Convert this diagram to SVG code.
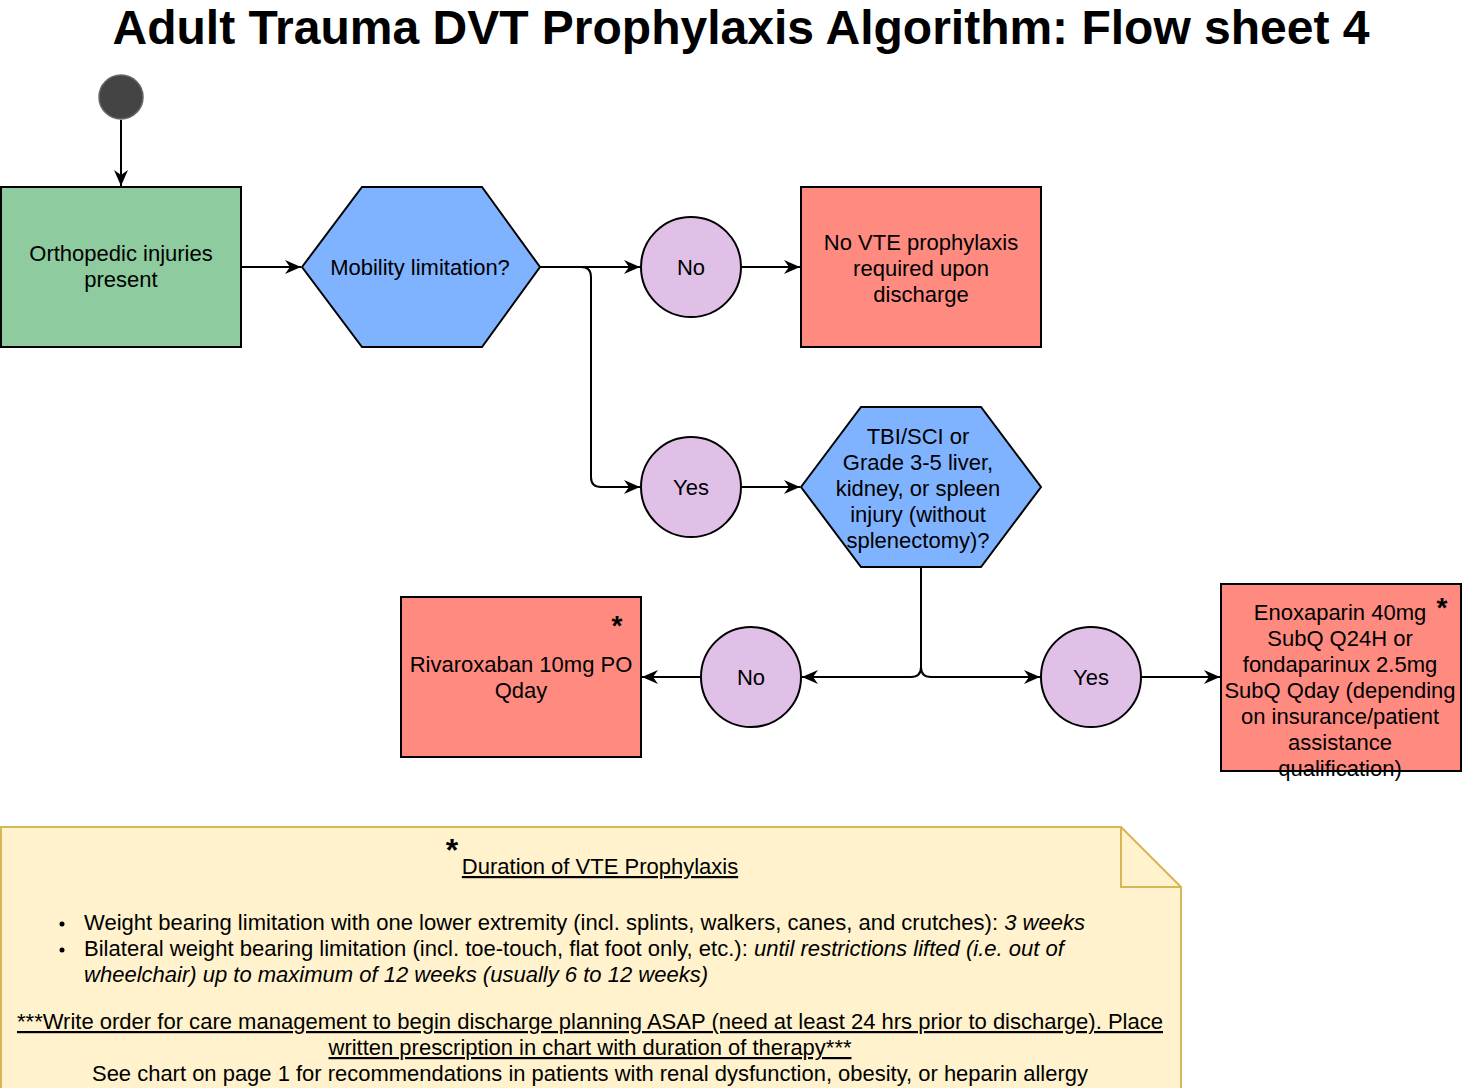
<svg xmlns="http://www.w3.org/2000/svg" width="1470" height="1088" viewBox="0 0 1470 1088">
<defs>
<marker id="arr" markerUnits="userSpaceOnUse" markerWidth="16" markerHeight="14" refX="16" refY="7" orient="auto">
<path d="M0,0 L16,7 L0,14 L5,7 z" fill="#000"/>
</marker>
<style>
.t{font-family:"Liberation Sans",Arial,sans-serif;font-size:22px;fill:#000;text-anchor:middle}
.n{font-family:"Liberation Sans",Arial,sans-serif;font-size:22px;fill:#000}
.star{font-family:"Liberation Sans",Arial,sans-serif;font-weight:bold;font-size:28px;fill:#000;text-anchor:middle}
.box{stroke:#000;stroke-width:2}
.red{fill:#FF8A80}
.hex{fill:#80B3FF}
.circ{fill:#E1C0E8}
.c{fill:none;stroke:#000;stroke-width:2;marker-end:url(#arr)}
</style>
</defs>
<rect width="1470" height="1088" fill="#fff"/>
<text x="741" y="44" style="font-family:'Liberation Sans',Arial,sans-serif;font-weight:bold;font-size:48px;text-anchor:middle" textLength="1257" lengthAdjust="spacingAndGlyphs">Adult Trauma DVT Prophylaxis Algorithm: Flow sheet 4</text>

<g id="connectors">
<path class="c" d="M121,120 L121,186"/>
<path class="c" d="M241,267 L301,267"/>
<path class="c" d="M540,267 L640,267"/>
<path class="c" d="M540,267 L581,267 Q591,267 591,277 L591,477 Q591,487 601,487 L640,487"/>
<path class="c" d="M741,267 L800,267"/>
<path class="c" d="M741,487 L800,487"/>
<path class="c" d="M921,567 L921,667 Q921,677 911,677 L802,677"/>
<path class="c" d="M921,567 L921,667 Q921,677 931,677 L1040,677"/>
<path class="c" d="M701,677 L642,677"/>
<path class="c" d="M1141,677 L1220,677"/>
</g>

<g id="start"><circle cx="121" cy="97" r="22" fill="#444" stroke="#666" stroke-width="1.5"/></g>

<g id="ortho">
<rect class="box" x="1" y="187" width="240" height="160" fill="#8ECB9F"/>
<text class="t" x="121" y="261">Orthopedic injuries</text>
<text class="t" x="121" y="287">present</text>
</g>

<g id="mobility">
<polygon class="box hex" points="302,267 362,187 482,187 540,267 482,347 362,347"/>
<text class="t" x="420" y="275">Mobility limitation?</text>
</g>

<g id="no1">
<circle class="box circ" cx="691" cy="267" r="50"/>
<text class="t" x="691" y="275">No</text>
</g>

<g id="novte">
<rect class="box red" x="801" y="187" width="240" height="160"/>
<text class="t" x="921" y="250">No VTE prophylaxis</text>
<text class="t" x="921" y="276">required upon</text>
<text class="t" x="921" y="302">discharge</text>
</g>

<g id="yes1">
<circle class="box circ" cx="691" cy="487" r="50"/>
<text class="t" x="691" y="495">Yes</text>
</g>

<g id="tbi">
<polygon class="box hex" points="801,487 861,407 981,407 1041,487 981,567 861,567"/>
<text class="t" x="918" y="444">TBI/SCI or</text>
<text class="t" x="918" y="470">Grade 3-5 liver,</text>
<text class="t" x="918" y="496">kidney, or spleen</text>
<text class="t" x="918" y="522">injury (without</text>
<text class="t" x="918" y="548">splenectomy)?</text>
</g>

<g id="no2">
<circle class="box circ" cx="751" cy="677" r="50"/>
<text class="t" x="751" y="685">No</text>
</g>

<g id="rivaroxaban">
<rect class="box red" x="401" y="597" width="240" height="160"/>
<text class="t" x="521" y="672">Rivaroxaban 10mg PO</text>
<text class="t" x="521" y="698">Qday</text>
<text class="star" x="617" y="635">*</text>
</g>

<g id="yes2">
<circle class="box circ" cx="1091" cy="677" r="50"/>
<text class="t" x="1091" y="685">Yes</text>
</g>

<g id="enoxaparin">
<rect class="box red" x="1221" y="584" width="240" height="187"/>
<text class="t" x="1340" y="620">Enoxaparin 40mg</text>
<text class="t" x="1340" y="646">SubQ Q24H or</text>
<text class="t" x="1340" y="672">fondaparinux 2.5mg</text>
<text class="t" x="1340" y="698">SubQ Qday (depending</text>
<text class="t" x="1340" y="724">on insurance/patient</text>
<text class="t" x="1340" y="750">assistance</text>
<text class="t" x="1340" y="776">qualification)</text>
<text class="star" x="1442" y="617">*</text>
</g>

<g id="note">
<path d="M1,827 L1121,827 L1181,887 L1181,1090 L1,1090 Z" fill="#FFF2CC" stroke="#D6B656" stroke-width="2"/>
<path d="M1121,827 L1121,887 L1181,887" fill="none" stroke="#D6B656" stroke-width="2"/>
<text class="star" x="452" y="861" style="font-size:32px">*</text>
<text class="t" x="600" y="874" style="text-decoration:underline">Duration of VTE Prophylaxis</text>
<circle cx="62" cy="924" r="2.5" fill="#000"/>
<circle cx="62" cy="950" r="2.5" fill="#000"/>
<text class="n" x="84" y="930" textLength="1001" lengthAdjust="spacingAndGlyphs">Weight bearing limitation with one lower extremity (incl. splints, walkers, canes, and crutches): <tspan font-style="italic">3 weeks</tspan></text>
<text class="n" x="84" y="956" textLength="980" lengthAdjust="spacingAndGlyphs">Bilateral weight bearing limitation (incl. toe-touch, flat foot only, etc.): <tspan font-style="italic">until restrictions lifted (i.e. out of</tspan></text>
<text class="n" x="84" y="982" font-style="italic" textLength="624" lengthAdjust="spacingAndGlyphs">wheelchair) up to maximum of 12 weeks (usually 6 to 12 weeks)</text>
<text class="t" x="590" y="1029" style="text-decoration:underline" textLength="1146" lengthAdjust="spacingAndGlyphs">***Write order for care management to begin discharge planning ASAP (need at least 24 hrs prior to discharge). Place</text>
<text class="t" x="590" y="1055" style="text-decoration:underline" textLength="523" lengthAdjust="spacingAndGlyphs">written prescription in chart with duration of therapy***</text>
<text class="t" x="590" y="1081" textLength="996" lengthAdjust="spacingAndGlyphs">See chart on page 1 for recommendations in patients with renal dysfunction, obesity, or heparin allergy</text>
</g>
</svg>
